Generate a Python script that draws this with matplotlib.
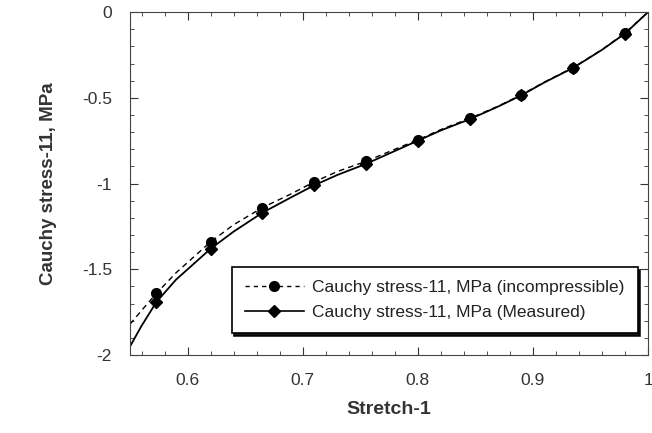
import matplotlib.pyplot as plt
from matplotlib.lines import Line2D
from matplotlib.ticker import MultipleLocator

plt.rcParams['font.family'] = ['Liberation Sans', 'DejaVu Sans']

# curves
x_line = [0.55, 0.56, 0.573, 0.59, 0.60, 0.62, 0.64, 0.665, 0.69, 0.71, 0.73,
          0.755, 0.78, 0.80, 0.82, 0.845, 0.87, 0.89, 0.91, 0.935, 0.96, 0.98, 1.0]
measured = [-1.95, -1.83, -1.69, -1.56, -1.50, -1.38, -1.28, -1.17, -1.08, -1.01, -0.95,
            -0.885, -0.81, -0.75, -0.69, -0.625, -0.55, -0.485, -0.41, -0.325, -0.22, -0.125, 0.0]
incompressible = [-1.82, -1.74, -1.64, -1.52, -1.46, -1.34, -1.24, -1.14, -1.06, -0.99, -0.93,
                  -0.87, -0.80, -0.745, -0.685, -0.62, -0.548, -0.482, -0.408, -0.323, -0.219, -0.122, 0.0]

# marker points
x_mark = [0.573, 0.62, 0.665, 0.71, 0.755, 0.80, 0.845, 0.89, 0.935, 0.98]
inc_mark = [-1.64, -1.34, -1.14, -0.99, -0.87, -0.745, -0.62, -0.482, -0.323, -0.122]
meas_mark = [-1.69, -1.38, -1.17, -1.01, -0.885, -0.75, -0.625, -0.485, -0.325, -0.125]

lab_inc = 'Cauchy stress-11, MPa (incompressible)'
lab_meas = 'Cauchy stress-11, MPa (Measured)'

fig = plt.figure(figsize=(6.52, 4.33), dpi=100)
ax = fig.add_axes([0.1994, 0.180, 0.7945, 0.792])

ax.plot(x_line, incompressible, 'k--', lw=1.0, dashes=(4, 3))
ax.plot(x_line, measured, 'k-', lw=1.3)
ax.plot(x_mark, inc_mark, 'ko', ms=7, ls='none')
ax.plot(x_mark, meas_mark, 'kD', ms=6.5, ls='none')

ax.set_xlim(0.55, 1.0)
ax.set_ylim(-2, 0)
ax.set_xticks([0.6, 0.7, 0.8, 0.9, 1.0])
ax.set_xticklabels(['0.6', '0.7', '0.8', '0.9', '1'])
ax.set_yticks([0, -0.5, -1, -1.5, -2])
ax.set_yticklabels(['0', '-0.5', '-1', '-1.5', '-2'])
ax.xaxis.set_minor_locator(MultipleLocator(0.02))
ax.yaxis.set_minor_locator(MultipleLocator(0.1))
ax.tick_params(which='both', direction='in', top=True, right=True, labelsize=12.5, colors='#333333')
ax.tick_params(which='major', length=6, pad=13, labelcolor='#333333')
ax.tick_params(which='minor', length=3)
for s in ax.spines.values():
    s.set_color('#444444')

ax.set_xlabel('Stretch-1', fontsize=14, fontweight='bold', labelpad=9, color='#333333')
ax.set_ylabel('Cauchy stress-11, MPa', fontsize=13.5, fontweight='bold', labelpad=18, color='#333333')

handles = [Line2D([], [], color='k', ls='--', dashes=(3, 3), lw=1.0, marker='o', ms=7),
           Line2D([], [], color='k', ls='-', lw=1.2, marker='D', ms=6.5)]
leg = ax.legend(handles, [lab_inc, lab_meas], loc='lower left', bbox_to_anchor=(0.196, 0.064),
                borderaxespad=0, fancybox=False, shadow={'color': 'k', 'alpha': 0.9},
                fontsize=12.5, handlelength=3.4, edgecolor='k', framealpha=1,
                labelspacing=0.55, borderpad=0.75, handletextpad=0.5)
leg.get_frame().set_linewidth(1.2)
for t in leg.get_texts():
    t.set_color('#222222')

fig.savefig('out.png', dpi=100)
